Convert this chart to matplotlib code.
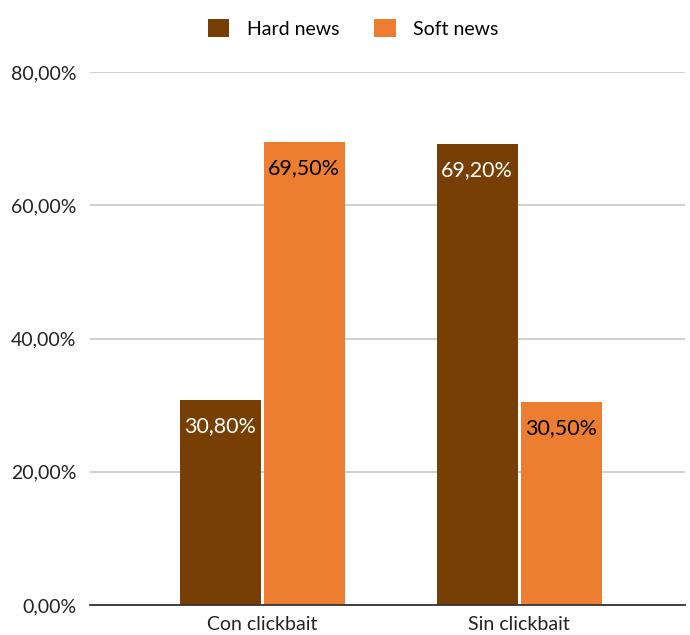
import matplotlib.pyplot as plt
import numpy as np

categories = ["Con clickbait", "Sin clickbait"]
hard_news = [30.8, 69.2]
soft_news = [69.5, 30.5]
yticks = [0, 20, 40, 60, 80]

plt.rcParams['font.family'] = ['Lato', 'DejaVu Sans']

fig = plt.figure(figsize=(6.9, 6.35), dpi=100)
ax = fig.add_axes([0.1304, 0.0472, 0.8626, 0.8394])

x = np.arange(len(categories))
w = 0.315
gap = 0.006
hard_col = "#783f04"
soft_col = "#ed7d31"

b1 = ax.bar(x - w / 2 - gap, hard_news, w, color=hard_col, label="Hard news", zorder=3)
b2 = ax.bar(x + w / 2 + gap, soft_news, w, color=soft_col, label="Soft news", zorder=3)

def fmt(v):
    return f"{v:.2f}".replace(".", ",") + "%"

for bars, vals, tc in [(b1, hard_news, "white"), (b2, soft_news, "black")]:
    for b, v in zip(bars, vals):
        ax.annotate(fmt(v), (b.get_x() + b.get_width() / 2, v),
                    xytext=(0, -19), textcoords="offset points",
                    ha="center", va="center", color=tc, fontsize=15.5, zorder=4)

ax.set_ylim(0, 80)
ax.set_xlim(-0.670, 1.645)
ax.set_yticks(yticks)
ax.set_yticklabels([fmt(v) for v in yticks], fontsize=14, color="#222222")
ax.set_xticks(x)
ax.set_xticklabels(categories, fontsize=14, color="#222222")
ax.tick_params(axis="both", length=0)
ax.tick_params(axis="y", pad=10)
ax.tick_params(axis="x", pad=8)

ax.grid(axis="y", color="#cccccc", linewidth=1.3, zorder=0)
for s in ["top", "right", "left"]:
    ax.spines[s].set_visible(False)
ax.spines["bottom"].set_color("#333333")
ax.spines["bottom"].set_linewidth(1.3)
ax.spines["bottom"].set_zorder(5)

fig.legend(loc="upper center", bbox_to_anchor=(0.512, 0.998), ncol=2, frameon=False,
           fontsize=14, handlelength=1.1, handleheight=1.1, columnspacing=1.8,
           handletextpad=0.9)

fig.savefig("out.png", dpi=100)
